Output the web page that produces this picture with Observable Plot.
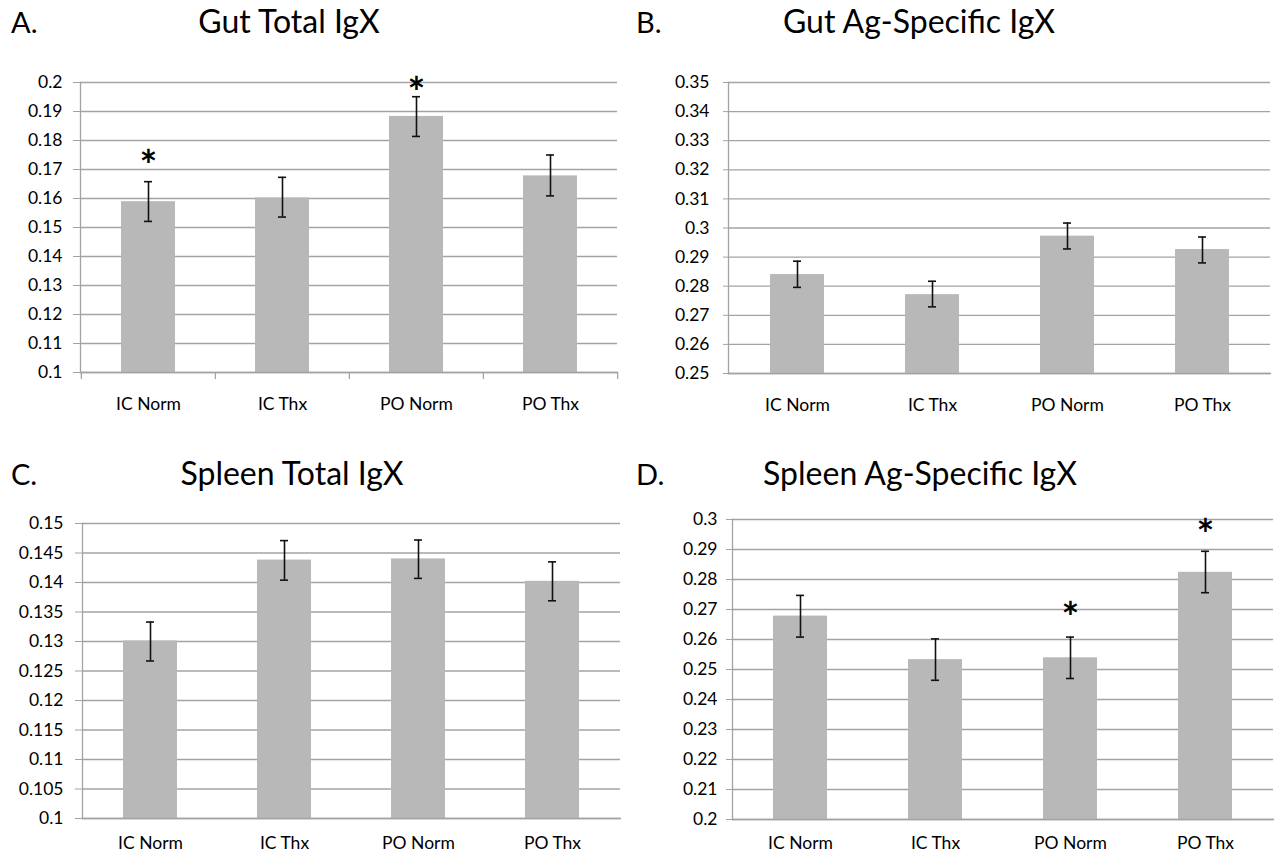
<!DOCTYPE html>
<html>
<head>
<meta charset="utf-8">
<script src="https://cdn.jsdelivr.net/npm/d3@7"></script>
<script src="https://cdn.jsdelivr.net/npm/@observablehq/plot@0.6"></script>
<style>
  html, body { margin: 0; padding: 0; background: #fff; }
  #wrap { position: relative; width: 1286px; height: 854px; overflow: hidden; font-family: Lato, "Open Sans", sans-serif; }
  .svgbox { position: absolute; width: 643px; height: 427px; }
  .lbl { position: absolute; font-size: 29px; line-height: 1; color: #000; white-space: nowrap; }
  .ttl { transform: translateX(-50%); font-size: 32px; }
  .svgbox g[aria-label="y-axis tick label"] text,
  .svgbox g[aria-label="x-axis tick label"] text { font-size: 17.5px; font-family: Lato, "Open Sans", sans-serif; }
</style>
</head>
<body>
<div id="wrap"></div>
<script>
// ---------- DATA ----------
const categories = ["IC Norm", "IC Thx", "PO Norm", "PO Thx"];

// A. Gut Total IgX
const gutTotalMean = [0.1589, 0.1602, 0.1883, 0.1678];
const gutTotalLow  = [0.1521, 0.1536, 0.1814, 0.1609];
const gutTotalHigh = [0.1658, 0.1673, 0.1951, 0.1750];
const gutTotalStar = [0.1745, null, 0.1996, null];
const gutTotalTicks = [0.1, 0.11, 0.12, 0.13, 0.14, 0.15, 0.16, 0.17, 0.18, 0.19, 0.2];

// B. Gut Ag-Specific IgX
const gutAgMean = [0.2840, 0.2771, 0.2972, 0.2926];
const gutAgLow  = [0.2796, 0.2729, 0.2928, 0.2880];
const gutAgHigh = [0.2886, 0.2817, 0.3017, 0.2969];
const gutAgStar = [null, null, null, null];
const gutAgTicks = [0.25, 0.26, 0.27, 0.28, 0.29, 0.3, 0.31, 0.32, 0.33, 0.34, 0.35];

// C. Spleen Total IgX
const spleenTotalMean = [0.1301, 0.1438, 0.1440, 0.1402];
const spleenTotalLow  = [0.1267, 0.1404, 0.1407, 0.1369];
const spleenTotalHigh = [0.1333, 0.1471, 0.1472, 0.1435];
const spleenTotalStar = [null, null, null, null];
const spleenTotalTicks = [0.1, 0.105, 0.11, 0.115, 0.12, 0.125, 0.13, 0.135, 0.14, 0.145, 0.15];

// D. Spleen Ag-Specific IgX
const spleenAgMean = [0.2678, 0.2533, 0.2539, 0.2824];
const spleenAgLow  = [0.2608, 0.2464, 0.2470, 0.2756];
const spleenAgHigh = [0.2747, 0.2602, 0.2608, 0.2894];
const spleenAgStar = [null, null, 0.2702, 0.2980];
const spleenAgTicks = [0.2, 0.21, 0.22, 0.23, 0.24, 0.25, 0.26, 0.27, 0.28, 0.29, 0.3];

// ---------- LAYOUT ----------
const panels = [
  { letter: "A.", title: "Gut Total IgX", mean: gutTotalMean, lo: gutTotalLow, hi: gutTotalHigh, star: gutTotalStar, ticks: gutTotalTicks,
    left: 0, top: 0, mL: 80, mR: 26, mT: 82, mB: 55, xPad: 25, ySize: 7, yPad: 11, bandTicks: true,
    letterX: 11, letterY: 7, titleX: 289, titleY: 5 },
  { letter: "B.", title: "Gut Ag-Specific IgX", mean: gutAgMean, lo: gutAgLow, hi: gutAgHigh, star: gutAgStar, ticks: gutAgTicks,
    left: 643, top: 0, mL: 85, mR: 16, mT: 82, mB: 54, xPad: 25, ySize: 5, yPad: 14, bandTicks: false,
    letterX: 636, letterY: 7, titleX: 919, titleY: 5 },
  { letter: "C.", title: "Spleen Total IgX", mean: spleenTotalMean, lo: spleenTotalLow, hi: spleenTotalHigh, star: spleenTotalStar, ticks: spleenTotalTicks,
    left: 0, top: 427, mL: 82, mR: 23, mT: 96, mB: 36, xPad: 18, ySize: 7, yPad: 12, bandTicks: false,
    letterX: 11, letterY: 459, titleX: 292, titleY: 457 },
  { letter: "D.", title: "Spleen Ag-Specific IgX", mean: spleenAgMean, lo: spleenAgLow, hi: spleenAgHigh, star: spleenAgStar, ticks: spleenAgTicks,
    left: 643, top: 427, mL: 89, mR: 13, mT: 92, mB: 35, xPad: 17, ySize: 6, yPad: 9, bandTicks: false,
    letterX: 636, letterY: 459, titleX: 920, titleY: 457 }
];

const W = 643, H = 427;
const gridColor = "#a3a3a3";
const barColor = "#b8b8b8";
const wrap = document.getElementById("wrap");
const fmt = d => String(+d.toFixed(3));

for (const p of panels) {
  const rows = categories.map((c, i) => ({ cat: c, mean: p.mean[i], lo: p.lo[i], hi: p.hi[i], star: p.star[i] }));
  const stars = rows.filter(r => r.star != null);
  const yMin = d3.min(p.ticks), yMax = d3.max(p.ticks);
  const step = (W - p.mL - p.mR) / categories.length;
  const frameH = H - p.mT - p.mB;

  const marks = [
    Plot.gridY(p.ticks, { stroke: gridColor, strokeOpacity: 1, strokeWidth: 1.3 }),
    Plot.barY(rows, { x: "cat", y1: yMin, y2: "mean", fill: barColor }),
    Plot.ruleX(rows, { x: "cat", y1: "lo", y2: "hi", stroke: "#111", strokeWidth: 1.6 }),
    Plot.tickY(rows, { x: "cat", y: "lo", insetLeft: 23, insetRight: 23, stroke: "#111", strokeWidth: 1.6 }),
    Plot.tickY(rows, { x: "cat", y: "hi", insetLeft: 23, insetRight: 23, stroke: "#111", strokeWidth: 1.6 }),
    Plot.text(stars, { x: "cat", y: "star", text: () => "*", fontSize: 42, fontWeight: "bold", fill: "#000", lineAnchor: "middle", dy: 11 }),
    Plot.frame({ anchor: "left", stroke: gridColor, strokeWidth: 1.3 }),
    Plot.frame({ anchor: "bottom", stroke: gridColor, strokeWidth: 1.3 }),
    Plot.axisY(p.ticks, { tickSize: p.ySize, tickPadding: p.yPad, tickFormat: fmt, stroke: gridColor, fill: "#000", fontSize: 17.5, label: null }),
    Plot.axisX({ tickSize: 0, tickPadding: p.xPad, fill: "#000", fontSize: 17.5, label: null })
  ];
  if (p.bandTicks) {
    marks.push(Plot.ruleX(categories, { x: d => d, dx: -step / 2, insetTop: frameH, insetBottom: -7, stroke: gridColor, strokeWidth: 1.3 }));
    marks.push(Plot.ruleX([categories[categories.length - 1]], { x: d => d, dx: step / 2, insetTop: frameH, insetBottom: -7, stroke: gridColor, strokeWidth: 1.3 }));
  }

  const chart = Plot.plot({
    width: W, height: H,
    marginLeft: p.mL, marginRight: p.mR, marginTop: p.mT, marginBottom: p.mB,
    style: { fontFamily: "Lato, 'Open Sans', sans-serif", fontSize: "17.5px", color: "#000", background: "transparent", overflow: "visible" },
    x: { domain: categories, paddingInner: 0.6, paddingOuter: 0.3, label: null, axis: null },
    y: { domain: [yMin, yMax], label: null, axis: null },
    marks
  });
  const box = document.createElement("div");
  box.className = "svgbox";
  box.style.left = p.left + "px";
  box.style.top = p.top + "px";
  box.appendChild(chart);
  wrap.appendChild(box);

  const letter = document.createElement("div");
  letter.className = "lbl";
  letter.textContent = p.letter;
  letter.style.left = p.letterX + "px";
  letter.style.top = p.letterY + "px";
  wrap.appendChild(letter);

  const title = document.createElement("div");
  title.className = "lbl ttl";
  title.textContent = p.title;
  title.style.left = p.titleX + "px";
  title.style.top = p.titleY + "px";
  wrap.appendChild(title);
}
</script>
</body>
</html>
